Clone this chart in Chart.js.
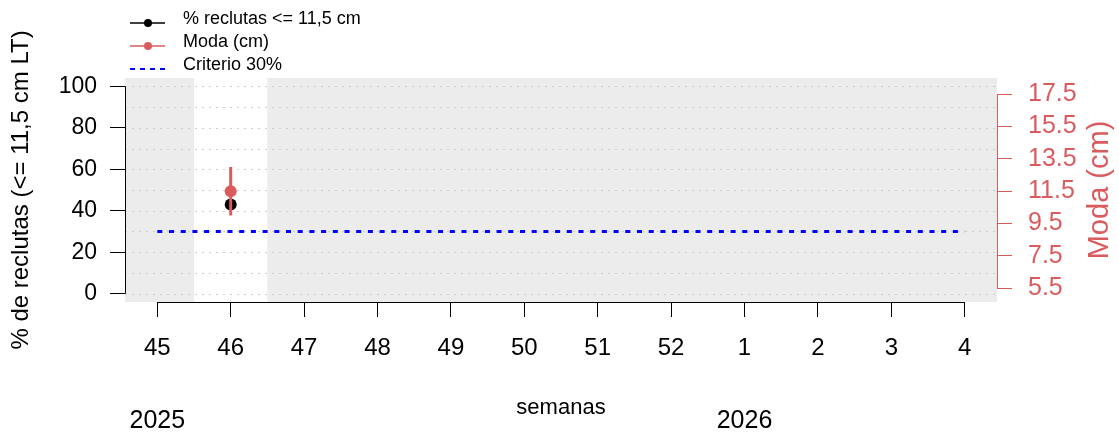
<!DOCTYPE html>
<html>
<head>
<meta charset="utf-8">
<script src="https://cdn.jsdelivr.net/npm/chart.js@4"></script>
<style>
  html, body { margin: 0; padding: 0; background: #fff; }
</style>
</head>
<body>
<canvas id="chart" width="1119" height="435"></canvas>
<script>
// datos
var semanas = ['45', '46', '47', '48', '49', '50', '51', '52', '1', '2', '3', '4'];
var reclutasPct = [null, 43, null, null, null, null, null, null, null, null, null, null];
var modaCm = [null, 11.5, null, null, null, null, null, null, null, null, null, null];
var modaMin = [null, 10.0, null, null, null, null, null, null, null, null, null, null];
var modaMax = [null, 13.0, null, null, null, null, null, null, null, null, null, null];
var criterio = 30;
var semanaActual = 1;
var anios = ['2025', '2026'];
var anioSemana = [0, 8];
var ticksPct = [0, 10, 20, 30, 40, 50, 60, 70, 80, 90, 100];
var ticksModa = [5.5, 6.5, 7.5, 8.5, 9.5, 10.5, 11.5, 12.5, 13.5, 14.5, 15.5, 16.5, 17.5];

var RED = '#DA5B5E';
var FONT = '"Liberation Sans", Arial, sans-serif';

function pts(arr) {
  var out = [];
  arr.forEach(function(v, i) { if (v !== null) out.push({x: i, y: v}); });
  return out;
}

var barras = [];
modaCm.forEach(function(v, i) {
  if (v !== null) {
    barras.push({x: i, y: modaMin[i]}, {x: i, y: modaMax[i]}, {x: i, y: null});
  }
});

var fondo = {
  id: 'fondo',
  beforeDraw: function(chart) {
    var ctx = chart.ctx, a = chart.chartArea;
    var x = chart.scales.x, y = chart.scales.y;
    ctx.save();
    ctx.fillStyle = '#fff';
    ctx.fillRect(0, 0, chart.width, chart.height);
    ctx.fillStyle = '#ececec';
    ctx.fillRect(a.left, a.top, a.right - a.left, a.bottom - a.top);
    ctx.fillStyle = '#fff';
    var x0 = x.getPixelForValue(semanaActual - 0.5), x1 = x.getPixelForValue(semanaActual + 0.5);
    ctx.fillRect(x0, a.top, x1 - x0, a.bottom - a.top);
    ctx.strokeStyle = '#cdcdcd';
    ctx.lineWidth = 1;
    ctx.setLineDash([2, 5]);
    ticksPct.forEach(function(v) {
      var py = Math.round(y.getPixelForValue(v)) + 0.5;
      ctx.beginPath();
      ctx.moveTo(a.left, py);
      ctx.lineTo(a.right, py);
      ctx.stroke();
    });
    ctx.restore();
  },
  afterDraw: function(chart) {
    var ctx = chart.ctx, a = chart.chartArea;
    var x = chart.scales.x, y = chart.scales.y, y1 = chart.scales.y1;
    ctx.save();
    ctx.setLineDash([]);
    ctx.lineWidth = 1;
    // ejes
    ctx.strokeStyle = '#000';
    ctx.beginPath();
    ctx.moveTo(a.left + 0.5, y.getPixelForValue(0));
    ctx.lineTo(a.left + 0.5, y.getPixelForValue(100));
    ctx.moveTo(x.getPixelForValue(0), a.bottom + 0.5);
    ctx.lineTo(x.getPixelForValue(11), a.bottom + 0.5);
    ctx.stroke();
    ctx.strokeStyle = RED;
    ctx.beginPath();
    ctx.moveTo(a.right + 0.5, y1.getPixelForValue(5.5));
    ctx.lineTo(a.right + 0.5, y1.getPixelForValue(17.5));
    ctx.stroke();

    // titulos
    var cy = (a.top + a.bottom) / 2;
    ctx.fillStyle = '#000';
    ctx.font = '24px ' + FONT;
    ctx.textAlign = 'center';
    ctx.textBaseline = 'middle';
    ctx.save();
    ctx.translate(21, cy);
    ctx.rotate(-Math.PI / 2);
    ctx.fillText('% de reclutas (<= 11,5 cm LT)', 0, 0);
    ctx.restore();

    ctx.fillStyle = RED;
    ctx.font = '29px ' + FONT;
    ctx.save();
    ctx.translate(1100, cy);
    ctx.rotate(-Math.PI / 2);
    ctx.fillText('Moda (cm)', 0, 0);
    ctx.restore();

    ctx.fillStyle = '#000';
    ctx.font = '22px ' + FONT;
    ctx.fillText('semanas', (a.left + a.right) / 2, 408);
    ctx.font = '25px ' + FONT;
    anios.forEach(function(t, i) {
      ctx.fillText(t, x.getPixelForValue(anioSemana[i]), 421);
    });

    // leyenda
    ctx.font = '18px ' + FONT;
    ctx.textAlign = 'left';
    ctx.textBaseline = 'alphabetic';
    var ley = [
      {t: '% reclutas <= 11,5 cm', c: '#000', y: 24, dash: false},
      {t: 'Moda (cm)', c: RED, y: 47, dash: false},
      {t: 'Criterio 30%', c: '#0000ff', y: 70, dash: true}
    ];
    ley.forEach(function(l) {
      ctx.strokeStyle = l.c;
      ctx.lineWidth = l.dash ? 2 : 1.5;
      ctx.setLineDash(l.dash ? [5, 5] : []);
      ctx.beginPath();
      ctx.moveTo(130, l.y - 1);
      ctx.lineTo(165, l.y - 1);
      ctx.stroke();
      if (!l.dash) {
        ctx.fillStyle = l.c;
        ctx.beginPath();
        ctx.arc(148, l.y - 1, 4, 0, Math.PI * 2);
        ctx.fill();
      }
      ctx.fillStyle = '#000';
      ctx.fillText(l.t, 183, l.y);
    });
    ctx.restore();
  }
};

var config = {
  type: 'line',
  data: {
    datasets: [{
      label: 'Moda (cm)',
      data: pts(modaCm),
      yAxisID: 'y1',
      showLine: false,
      pointRadius: 6,
      pointBackgroundColor: RED,
      pointBorderWidth: 0,
      order: 0
    }, {
      label: 'rango moda',
      data: barras,
      yAxisID: 'y1',
      borderColor: RED,
      borderWidth: 3,
      pointRadius: 0,
      spanGaps: false,
      order: 1
    }, {
      label: '% reclutas <= 11,5 cm',
      data: pts(reclutasPct),
      yAxisID: 'y',
      showLine: false,
      pointRadius: 6,
      pointBackgroundColor: '#000',
      pointBorderWidth: 0,
      order: 2
    }, {
      label: 'Criterio 30%',
      data: [{x: 0, y: criterio}, {x: semanas.length - 1, y: criterio}],
      yAxisID: 'y',
      borderColor: '#0000ff',
      borderWidth: 3,
      borderDash: [5, 6.7],
      pointRadius: 0,
      order: 3
    }]
  },
  options: {
    responsive: false,
    animation: false,
    layout: { padding: { top: 78, left: 0, right: 0, bottom: 0 } },
    plugins: { legend: { display: false }, tooltip: { enabled: false } },
    scales: {
      x: {
        type: 'linear',
        min: -0.44,
        max: 11.44,
        afterFit: function(s) { s.height = 133; },
        afterBuildTicks: function(s) { s.ticks = semanas.map(function(_, i) { return {value: i}; }); },
        grid: { display: true, drawOnChartArea: false, tickLength: 15, tickColor: '#000', tickWidth: 1 },
        border: { display: false },
        ticks: {
          autoSkip: false, maxRotation: 0, padding: 17,
          color: '#000', font: { family: FONT, size: 24 },
          callback: function(v) { return semanas[v]; }
        }
      },
      y: {
        position: 'left',
        min: -4,
        max: 104,
        afterFit: function(s) { s.width = 125; },
        afterBuildTicks: function(s) { s.ticks = ticksPct.map(function(v) { return {value: v}; }); },
        grid: { display: true, drawOnChartArea: false, tickLength: 15, tickColor: '#000', tickWidth: 1 },
        border: { display: false },
        ticks: {
          padding: 13, color: '#000', font: { family: FONT, size: 23 },
          callback: function(v) { return v % 20 === 0 ? String(v) : ''; }
        }
      },
      y1: {
        position: 'right',
        min: 4.65,
        max: 18.5,
        afterFit: function(s) { s.width = 122; },
        afterBuildTicks: function(s) { s.ticks = ticksModa.map(function(v) { return {value: v}; }); },
        grid: { display: true, drawOnChartArea: false, tickLength: 15, tickColor: RED, tickWidth: 1 },
        border: { display: false },
        ticks: {
          padding: 16, color: RED, font: { family: FONT, size: 25 },
          callback: function(v) { return Math.round((v - 5.5) * 10) % 20 === 0 ? v.toFixed(1) : ''; }
        }
      }
    }
  },
  plugins: [fondo]
};

window.onload = function() {
  window.myChart = new Chart(document.getElementById('chart'), config);
};
</script>
</body>
</html>
